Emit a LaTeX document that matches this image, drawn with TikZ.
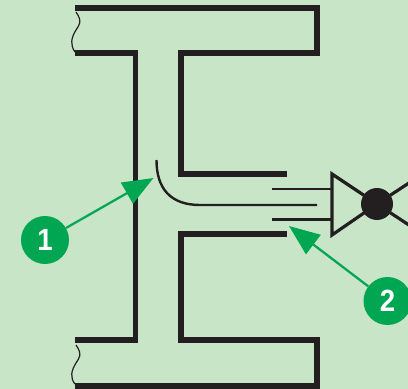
\documentclass[tikz,border=0pt]{standalone}
\usepackage{fontspec}
\setmainfont{Liberation Sans}
\usetikzlibrary{arrows.meta}
\definecolor{bgc}{HTML}{C9E5C8}
\definecolor{grn}{HTML}{00A651}
\definecolor{blk}{HTML}{231F20}
\tikzset{
  thick wall/.style={draw=blk,line width=4.1pt,line cap=butt,line join=miter},
  thin pipe/.style={draw=blk,line width=1.8pt,line cap=butt},
  valve line/.style={draw=blk,line width=2.4pt,line join=miter},
  break line/.style={draw=blk,line width=0.9pt},
  badge/.style={circle,fill=grn,minimum size=36pt,inner sep=0pt,text=white,font=\bfseries\fontsize{23}{23}\selectfont},
  callout/.style={draw=grn,line width=1.7pt,-{Triangle[length=23pt,width=18pt,fill=grn]}},
}
\begin{document}
\begin{tikzpicture}[x=0.75pt,y=-0.75pt]
\useasboundingbox (0,0) rectangle (408,389);
\fill[bgc] (0,0) rectangle (408,389);
% top part of the section
\draw[thick wall] (75,8) -- (317,8) -- (317,53) -- (181,53) -- (181,174) -- (286.5,174);
\draw[thick wall] (75,53) -- (135.5,53) -- (135.5,340) -- (75,340);
% bottom part
\draw[thick wall] (286.5,234) -- (181,234) -- (181,340) -- (317,340) -- (317,386) -- (75,386);
% break lines
\draw[break line] (76,12) .. controls (83,22) and (79,25) .. (76,30) .. controls (71,38) and (70,45) .. (75,52);
\draw[break line] (76,345) .. controls (83,355) and (79,358) .. (76,363) .. controls (71,371) and (70,378) .. (75,384);
% pipe
\draw[thin pipe] (156.5,160) .. controls (156.5,188) and (170,205) .. (200,205) -- (317,205);
\draw[thin pipe] (271.5,189) -- (332,189);
\draw[thin pipe] (271.5,219.5) -- (332,219.5);
% valve
\coordinate (vc) at (377,204);
\draw[valve line] (332,174) -- (vc) -- (332,235) -- cycle;
\draw[valve line] (vc) -- (415,179);
\draw[valve line] (vc) -- (415,229);
\node[circle,fill=blk,minimum size=24pt,inner sep=0pt] (ball) at (vc) {};
% callouts
\node[badge] (n1) at (45,240) {\scalebox{0.9}[1]{1}};
\node[badge] (n2) at (387.5,301) {\scalebox{0.9}[1]{2}};
\coordinate (t1) at (153.5,178);
\coordinate (t2) at (289,226);
\draw[callout] (n1) -- (t1);
\draw[callout] (n2) -- (t2);
\end{tikzpicture}
\end{document}
